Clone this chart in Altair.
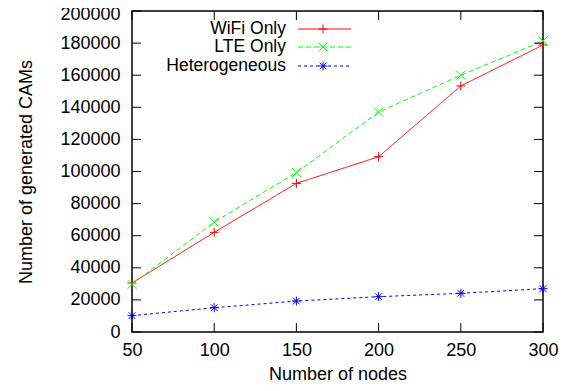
import altair as alt
import pandas as pd

nodes = [50, 100, 150, 200, 250, 300]
wifi = [30500, 62100, 92600, 109200, 153300, 178800]
lte = [29700, 68500, 99300, 137000, 160000, 181300]
het = [10200, 15100, 19300, 22000, 24100, 27000]
series_names = ["WiFi Only", "LTE Only", "Heterogeneous"]
series_values = [wifi, lte, het]
colors = ["#ff0000", "#00ff00", "#0000ff"]
dashes = [[1, 0], [5, 3], [3, 3]]
x_ticks = [50, 100, 150, 200, 250, 300]
y_ticks = [0, 20000, 40000, 60000, 80000, 100000, 120000, 140000, 160000, 180000, 200000]

PLUS = "M-1,0L1,0M0,-1L0,1"
XMARK = "M-1,-1L1,1M-1,1L1,-1"
STAR = "M-1,0L1,0M0,-1L0,1M-0.75,-0.75L0.75,0.75M-0.75,0.75L0.75,-0.75"
shapes = [PLUS, XMARK, STAR]

W, H = 411, 321
FONT = "Liberation Sans"
FS = 18

xscale = alt.Scale(domain=[50, 300], nice=False)
yscale = alt.Scale(domain=[0, 200000], nice=False)
xaxis = alt.Axis(values=x_ticks, format="d", ticks=False, domain=False, grid=False,
                 labelFlush=False, labelOverlap=False,
                 labelPadding=9, labelFont=FONT, labelFontSize=FS, labelColor="black",
                 title="Number of nodes", titleFont=FONT, titleFontSize=FS,
                 titleFontWeight="normal", titleColor="black", titleY=47,
                 titleBaseline="alphabetic")
yaxis = alt.Axis(values=y_ticks, format="d", ticks=False, domain=False, grid=False,
                 labelFlush=False, labelOverlap=False,
                 labelOffset={"condition": {"test": "datum.value >= 200000", "value": 3},
                              "value": 0},
                 labelPadding=12, labelFont=FONT, labelFontSize=FS, labelColor="black",
                 title="Number of generated CAMs", titleFont=FONT, titleFontSize=FS,
                 titleFontWeight="normal", titleColor="black", titleX=-101, titleY=H / 2,
                 titleAngle=270, titleAlign="center", titleBaseline="alphabetic")

layers = []
for name, vals, c, d, shp in zip(series_names, series_values, colors, dashes, shapes):
    df = pd.DataFrame({"nodes": nodes, "cams": vals})
    enc = dict(x=alt.X("nodes:Q", scale=xscale, axis=xaxis),
               y=alt.Y("cams:Q", scale=yscale, axis=yaxis))
    layers.append(alt.Chart(df).mark_line(color=c, strokeWidth=1, strokeDash=d).encode(**enc))
    layers.append(alt.Chart(df).mark_point(shape=shp, filled=False, size=81, strokeWidth=1,
                                           color=c, opacity=1).encode(**enc))

# inward tick marks on all four sides
ydf = pd.DataFrame({"v": y_ticks})
xdf = pd.DataFrame({"v": x_ticks})
TL = 9
for x0, x1 in [(0, TL), (W - TL, W)]:
    layers.append(alt.Chart(ydf).mark_rule(color="black", strokeWidth=1).encode(
        y=alt.Y("v:Q", scale=yscale, axis=yaxis), x=alt.value(x0), x2=alt.value(x1)))
for y0, y1 in [(H, H - TL), (0, TL)]:
    layers.append(alt.Chart(xdf).mark_rule(color="black", strokeWidth=1).encode(
        x=alt.X("v:Q", scale=xscale, axis=xaxis), y=alt.value(y0), y2=alt.value(y1)))

# key
rows_y = [18, 36, 55]
for name, c, d, shp, ry in zip(series_names, colors, dashes, shapes, rows_y):
    ldf = pd.DataFrame({"label": [name]})
    layers.append(alt.Chart(ldf).mark_text(align="right", baseline="middle", font=FONT,
                                           fontSize=17.5, color="black").encode(
        text="label:N", x=alt.value(154), y=alt.value(ry)))
    layers.append(alt.Chart(ldf).mark_rule(color=c, strokeWidth=1, strokeDash=d).encode(
        x=alt.value(166), x2=alt.value(219), y=alt.value(ry)))
    layers.append(alt.Chart(ldf).mark_point(shape=shp, filled=False, size=81, strokeWidth=1,
                                            color=c, opacity=1).encode(
        x=alt.value(191), y=alt.value(ry)))

chart = alt.layer(*layers).properties(
    width=W, height=H, autosize="none",
    padding={"left": 124, "top": 3, "right": 20, "bottom": 51},
    background="white",
).configure_view(stroke="black", strokeWidth=1.5)

chart.save("out.html", embed_options={"renderer": "svg", "actions": False})
